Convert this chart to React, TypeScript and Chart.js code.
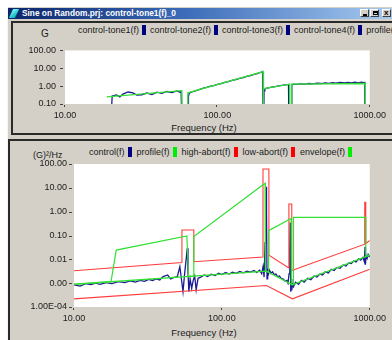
import React, { useEffect, useRef } from 'react';
import { Chart, registerables } from 'chart.js';

Chart.register(...registerables);

// ---------------- axis ticks ----------------
const X_TICKS = [10, 100, 1000];
const X_TICK_LABELS = ['10.00', '100.00', '1000.00'];
const TOP_Y_TICKS = [0.1, 1, 10, 100];
const TOP_Y_TICK_LABELS = ['0.10', '1.00', '10.00', '100.00'];
const BOT_Y_TICKS = [1e-4, 1e-3, 0.01, 0.1, 1, 10, 100];
const BOT_Y_TICK_LABELS = ['1.00E-04', '0.00', '0.01', '0.10', '1.00', '10.00', '100.00'];

// ---------------- series names ----------------
const TOP_NAMES = ['control-tone1(f)', 'control-tone2(f)', 'control-tone3(f)', 'control-tone4(f)', 'profile(f)'];
const BOT_NAMES = ['control(f)', 'profile(f)', 'high-abort(f)', 'low-abort(f)', 'envelope(f)'];

// ---------------- top chart (G) : [Hz, G] ----------------
const TOP_TONE1 = [
  [20.2, 0.05], [20.4, 0.28], [21.8, 0.32], [22.9, 0.25], [24.0, 0.36], [25.9, 0.47], [27.9, 0.42],
  [29.6, 0.32], [31.9, 0.33], [34.5, 0.41], [37.2, 0.34], [40.1, 0.46], [43.3, 0.39], [46.6, 0.5],
  [50.3, 0.44], [54.3, 0.54], [56.7, 0.46], [57.8, 0.52], [58.2, 0.05],
];
const TOP_TONE2 = [
  [64.2, 0.05], [64.6, 0.28], [65.5, 0.4], [68, 0.47], [71, 0.53], [75, 0.62], [80, 0.75], [85, 0.84],
  [90, 1.0], [95, 1.08], [100, 1.25], [106, 1.4], [112, 1.62], [118, 1.8], [125, 2.1], [132, 2.35],
  [140, 2.75], [148, 3.0], [156, 3.5], [165, 3.9], [174, 4.5], [183, 5.0], [192, 5.8], [198, 6.5], [199.5, 0.05],
];
const TOP_TONE3 = [
  [202, 0.05], [202.5, 0.55], [205, 0.7], [212, 0.78], [220, 0.83], [230, 0.9], [240, 0.95], [252, 1.02],
  [265, 1.1], [278, 1.18], [288, 1.22], [293, 1.25], [294, 0.05],
];
const TOP_TONE4 = [
  [307, 0.05], [308, 1.15], [315, 1.3], [330, 1.25], [350, 1.35], [375, 1.3], [400, 1.4], [425, 1.35],
  [450, 1.45], [480, 1.4], [510, 1.5], [540, 1.42], [570, 1.55], [600, 1.45], [640, 1.6], [680, 1.5],
  [720, 1.62], [760, 1.5], [800, 1.65], [840, 1.52], [880, 1.68], [910, 1.55], [928, 1.6], [930, 0.05],
];
const TOP_PROFILE = [
  [18.8, 0.25], [58.3, 0.56], [58.6, 0.05], [63.8, 0.05], [64.0, 0.42], [199.5, 6.4], [200, 0.05],
  [201, 0.05], [201.5, 0.72], [298, 1.28], [298.5, 0.05], [307, 0.05], [307.5, 1.3], [935, 1.4], [936, 0.05],
];

// ---------------- bottom chart ((G)^2/Hz) : [Hz, value] ----------------
const BOT_CONTROL = [
  [10, 8.5e-4], [11, 7.5e-4], [12, 9.5e-4], [13, 8.8e-4], [14, 1.0e-3], [15, 9.0e-4], [16.5, 1.05e-3],
  [18, 9.5e-4], [20, 1.15e-3], [22, 1.05e-3], [24, 1.25e-3], [26, 1.1e-3], [28, 1.3e-3], [30, 1.2e-3],
  [32, 1.45e-3], [34, 1.3e-3], [36, 1.5e-3], [38, 1.35e-3], [40, 1.9e-3], [43, 2.2e-3], [45, 1.5e-3],
  [47, 1.7e-3], [50, 1.9e-3], [52, 4.9e-3], [53.5, 1.2e-3], [54.6, 4.4e-4], [56, 2.5e-3], [57.5, 1.2e-2],
  [58.3, 2.9e-2], [59, 3.0e-3], [59.8, 4.4e-4], [61, 1.5e-3], [62.5, 6.0e-4], [64, 1.3e-3], [65.5, 2.0e-3],
  [67, 5.2e-4], [69, 1.6e-3], [72, 1.8e-3], [76, 2.2e-3], [80, 1.9e-3], [85, 2.4e-3], [90, 2.1e-3],
  [95, 2.6e-3], [100, 2.3e-3], [106, 2.8e-3], [112, 2.4e-3], [118, 2.9e-3], [125, 2.6e-3], [132, 3.1e-3],
  [140, 2.7e-3], [148, 3.2e-3], [156, 2.9e-3], [165, 3.4e-3], [172, 2.8e-3], [180, 3.5e-3], [186, 2.5e-3],
  [190, 5.0e-3], [193, 1.8e-3], [196, 5.0e-2], [198, 3.0], [199.5, 11], [200.5, 0.8], [202, 1.5e-3],
  [204, 4.0e-3], [207, 2.5e-3], [210, 3.5e-3], [215, 2.6e-3], [220, 3.0e-3], [226, 2.3e-3], [232, 2.4e-3],
  [238, 1.9e-3], [245, 2.0e-3], [252, 1.6e-3], [260, 1.5e-3], [268, 1.2e-3], [275, 1.3e-3], [280, 1.0e-3],
  [285, 2.5e-3], [288, 2.0e-2], [290, 0.35], [291.5, 5.0e-2], [293, 4.4e-4], [295, 1.5e-3], [297, 5.0e-4],
  [300, 9.0e-4], [305, 7.0e-4], [315, 1.1e-3], [330, 9.0e-4], [345, 1.3e-3], [360, 1.1e-3], [380, 1.6e-3],
  [400, 1.4e-3], [420, 2.0e-3], [440, 1.8e-3], [460, 2.4e-3], [480, 2.2e-3], [500, 3.0e-3], [525, 2.7e-3],
  [550, 3.8e-3], [575, 3.4e-3], [600, 4.6e-3], [630, 4.2e-3], [660, 5.8e-3], [690, 5.2e-3], [720, 7.0e-3],
  [750, 6.6e-3], [780, 8.5e-3], [810, 7.8e-3], [840, 1.05e-2], [870, 9.2e-3], [900, 1.2e-2], [920, 8.0e-3],
  [930, 3.4e-2], [935, 6.0e-3], [945, 1.4e-2], [960, 1.1e-2], [975, 1.6e-2], [990, 1.3e-2], [1000, 1.5e-2],
];
const BOT_PROFILE = [[10, 9.0e-4], [200, 3.2e-3], [300, 8.5e-4], [1000, 1.5e-2]];
const BOT_HIGH_ABORT = [
  [10, 3.3e-3], [53.7, 7.3e-3], [53.7, 0.17], [64.6, 0.17], [64.6, 7.9e-3], [189.7, 1.25e-2], [189.7, 62],
  [208, 62], [208, 1.5e-2], [284, 4.3e-3], [284, 2.1], [297, 2.1], [297, 3.4e-3], [925, 4.3e-2], [925, 2.5],
  [940, 2.5], [940, 4.6e-2], [1000, 6.2e-2],
];
const BOT_LOW_ABORT = [[10, 2.2e-4], [200, 8.0e-4], [300, 2.2e-4], [1000, 3.8e-3]];
const BOT_ENVELOPE = [
  [10, 9.0e-4], [17.8, 1.15e-3], [19.3, 2.45e-2], [58, 9.5e-2], [59.5, 1.9e-3], [64, 1.95e-3], [64.6, 9.0e-2],
  [196, 15.5], [197, 3.2e-3], [206, 3.0e-3], [207, 0.16], [294, 0.52], [295, 8.6e-4], [304, 8.6e-4],
  [305, 0.58], [940, 0.58], [941, 1.3e-2], [1000, 1.5e-2],
];

// ---------------- styles ----------------
const FONT = '"Liberation Sans", Arial, sans-serif';
const GRAY = '#d4d0c8';
const NAVY = '#000080';
const LINE_NAVY = '#1c1c92';
const GREEN = '#00ee00';
const LINE_GREEN = '#33e033';
const RED = '#ff0000';
const LINE_RED = '#ff3c3c';
const TEXT = '#1a1a1a';
const TOP_COLORS = [NAVY, NAVY, NAVY, NAVY, GREEN];
const BOT_COLORS = [NAVY, GREEN, RED, RED, GREEN];

const toXY = (arr: number[][]) => arr.map(([x, y]) => ({ x, y }));

const plotPlugin = {
  id: 'plotDecor',
  beforeDraw(chart: any) {
    const { ctx, chartArea: a } = chart;
    ctx.save();
    ctx.fillStyle = '#ffffff';
    ctx.fillRect(a.left, a.top, a.right - a.left, a.bottom - a.top);
    ctx.restore();
  },
  afterDraw(chart: any) {
    const { ctx, chartArea: a, scales } = chart;
    ctx.save();
    ctx.strokeStyle = '#444';
    ctx.lineWidth = 1;
    scales.y.ticks.forEach((t: any) => {
      const y = Math.round(scales.y.getPixelForValue(t.value)) + 0.5;
      ctx.beginPath();
      ctx.moveTo(a.left - 5, y);
      ctx.lineTo(a.left - 2, y);
      ctx.stroke();
    });
    scales.x.ticks.forEach((t: any) => {
      const x = Math.round(scales.x.getPixelForValue(t.value)) - 0.5;
      ctx.beginPath();
      ctx.moveTo(x, a.bottom + 1);
      ctx.lineTo(x, a.bottom + 3);
      ctx.stroke();
    });
    ctx.restore();
  },
};

function makeScales(yMin: number, yMax: number, yTicks: number[], yLabels: string[], yWidth: number, yPad: number, xHeight: number) {
  const font = { family: FONT, size: 9 };
  return {
    x: {
      type: 'logarithmic',
      min: 10,
      max: 1000,
      grid: { display: false, drawTicks: false, tickLength: 0 },
      border: { display: false },
      ticks: {
        autoSkip: false,
        maxRotation: 0,
        padding: 6,
        font,
        color: TEXT,
        callback: (_v: any, i: number) => X_TICK_LABELS[i],
      },
      afterBuildTicks: (s: any) => {
        s.ticks = X_TICKS.map((v) => ({ value: v }));
      },
      afterFit: (s: any) => {
        s.height = xHeight;
      },
    },
    y: {
      type: 'logarithmic',
      min: yMin,
      max: yMax,
      grid: { display: false, drawTicks: false, tickLength: 0 },
      border: { display: false },
      ticks: {
        autoSkip: false,
        padding: yPad,
        font,
        color: TEXT,
        callback: (_v: any, i: number) => yLabels[i],
      },
      afterBuildTicks: (s: any) => {
        s.ticks = yTicks.map((v) => ({ value: v }));
      },
      afterFit: (s: any) => {
        s.width = yWidth;
      },
    },
  };
}

const lineDs = (label: string, data: number[][], color: string, width: number, order: number) => ({
  label,
  data: toXY(data),
  borderColor: color,
  backgroundColor: color,
  borderWidth: width,
  pointRadius: 0,
  tension: 0,
  fill: false,
  order,
});

const baseOptions = (padding: any, scales: any) => ({
  animation: false,
  responsive: false,
  devicePixelRatio: 1,
  parsing: true,
  layout: { padding },
  plugins: { legend: { display: false }, tooltip: { enabled: false }, title: { display: false } },
  scales,
});

export default function App() {
  const topRef = useRef<HTMLCanvasElement>(null);
  const botRef = useRef<HTMLCanvasElement>(null);

  useEffect(() => {
    const top = new Chart(topRef.current as HTMLCanvasElement, {
      type: 'line',
      data: {
        datasets: [
          lineDs(TOP_NAMES[0], TOP_TONE1, LINE_NAVY, 1.3, 2),
          lineDs(TOP_NAMES[1], TOP_TONE2, LINE_NAVY, 1.3, 2),
          lineDs(TOP_NAMES[2], TOP_TONE3, LINE_NAVY, 1.3, 2),
          lineDs(TOP_NAMES[3], TOP_TONE4, LINE_NAVY, 1.3, 2),
          lineDs(TOP_NAMES[4], TOP_PROFILE, LINE_GREEN, 1.3, 1),
        ],
      },
      options: baseOptions({ top: 7, right: 21, left: 0, bottom: 0 }, makeScales(0.1, 100, TOP_Y_TICKS, TOP_Y_TICK_LABELS, 65, 9, 32)) as any,
      plugins: [plotPlugin],
    } as any);

    const bot = new Chart(botRef.current as HTMLCanvasElement, {
      type: 'line',
      data: {
        datasets: [
          lineDs(BOT_NAMES[0], BOT_CONTROL, LINE_NAVY, 1.3, 4),
          lineDs(BOT_NAMES[1], BOT_PROFILE, LINE_GREEN, 1.3, 3),
          lineDs(BOT_NAMES[2], BOT_HIGH_ABORT, LINE_RED, 1.1, 2),
          lineDs(BOT_NAMES[3], BOT_LOW_ABORT, LINE_RED, 1.1, 2),
          lineDs(BOT_NAMES[4], BOT_ENVELOPE, LINE_GREEN, 1.2, 1),
        ],
      },
      options: baseOptions({ top: 23, right: 22, left: 0, bottom: 0 }, makeScales(1e-4, 100, BOT_Y_TICKS, BOT_Y_TICK_LABELS, 74, 7, 33)) as any,
      plugins: [plotPlugin],
    } as any);

    return () => {
      top.destroy();
      bot.destroy();
    };
  }, []);

  const legend = (names: string[], colors: string[], left: number, top: number, gap: number) => (
    <div
      style={{
        position: 'absolute',
        left,
        top,
        display: 'flex',
        alignItems: 'center',
        whiteSpace: 'nowrap',
        fontSize: 9,
        lineHeight: '10px',
        color: TEXT,
      }}
    >
      {names.map((n, i) => (
        <span key={n} style={{ display: 'flex', alignItems: 'center', marginRight: gap, flex: 'none' }}>
          <span>{n}</span>
          <span style={{ display: 'inline-block', width: 4, height: 10, marginLeft: 3, background: colors[i] }} />
        </span>
      ))}
    </div>
  );

  const btn = (left: number, content: React.ReactNode) => (
    <div
      style={{
        position: 'absolute',
        left,
        top: 9,
        width: 9,
        height: 8,
        background: GRAY,
        borderTop: '1px solid #fff',
        borderLeft: '1px solid #fff',
        borderRight: '1px solid #404040',
        borderBottom: '1px solid #404040',
        boxSizing: 'border-box',
      }}
    >
      {content}
    </div>
  );

  return (
    <div
      style={{
        position: 'fixed',
        left: 0,
        top: 0,
        width: 392,
        height: 340,
        overflow: 'hidden',
        background: '#ffffff',
        fontFamily: FONT,
      }}
    >
      {/* window body */}
      <div style={{ position: 'absolute', left: 7, top: 7, width: 400, height: 340, background: GRAY, borderLeft: '1px solid #f4f4f4' }} />
      {/* title bar */}
      <div style={{ position: 'absolute', left: 8, top: 8, width: 384, height: 11, background: 'linear-gradient(90deg, #0a246a 0%, #3a6ab8 45%, #a6caf0 100%)' }} />
      <div
        style={{
          position: 'absolute',
          left: 11,
          top: 9,
          width: 6,
          height: 9,
          background: 'linear-gradient(135deg, #7ff 0%, #0aa 100%)',
          transform: 'skewX(-25deg)',
        }}
      />
      <div
        style={{
          position: 'absolute',
          left: 22,
          top: 8,
          height: 11,
          lineHeight: '11px',
          color: '#ffffff',
          fontWeight: 'bold',
          fontSize: 8.3,
          whiteSpace: 'nowrap',
        }}
      >
        Sine on Random.prj: control-tone1(f)_0
      </div>
      {btn(360, <div style={{ position: 'absolute', left: 2, top: 4, width: 4, height: 1.5, background: '#000' }} />)}
      {btn(370, <div style={{ position: 'absolute', left: 1.5, top: 1, width: 5, height: 4, border: '1px solid #000', borderTopWidth: 2, boxSizing: 'border-box' }} />)}
      {btn(382, <div style={{ position: 'absolute', left: 1, top: -2, fontSize: 8, fontWeight: 'bold', color: '#000' }}>x</div>)}

      {/* top panel frame */}
      <div style={{ position: 'absolute', left: 11, top: 21, width: 400, height: 110, border: '2px solid #2a2a2a', background: GRAY }} />
      {/* bottom panel frame */}
      <div style={{ position: 'absolute', left: 8, top: 139, width: 400, height: 220, borderTop: '2px solid #2a2a2a', borderLeft: '2px solid #2a2a2a', background: GRAY }} />

      {/* top chart labels */}
      <div style={{ position: 'absolute', left: 41, top: 28, fontSize: 10, lineHeight: '12px', color: TEXT }}>G</div>
      {legend(TOP_NAMES, TOP_COLORS, 78, 25, 4)}
      <div style={{ position: 'absolute', left: 104, width: 200, top: 122, textAlign: 'center', fontSize: 9.5, lineHeight: '12px', color: TEXT }}>
        Frequency (Hz)
      </div>

      {/* bottom chart labels */}
      <div style={{ position: 'absolute', left: 33, top: 150, fontSize: 9, lineHeight: '10px', color: TEXT }}>
        (G)²/Hz
      </div>
      {legend(BOT_NAMES, BOT_COLORS, 89, 147, 5)}
      <div style={{ position: 'absolute', left: 104, width: 200, top: 327, textAlign: 'center', fontSize: 9.5, lineHeight: '12px', color: TEXT }}>
        Frequency (Hz)
      </div>

      <canvas ref={topRef} width={392} height={100} style={{ position: 'absolute', left: 0, top: 36, width: 392, height: 100 }} />
      <canvas ref={botRef} width={392} height={199} style={{ position: 'absolute', left: 0, top: 141, width: 392, height: 199 }} />
    </div>
  );
}
